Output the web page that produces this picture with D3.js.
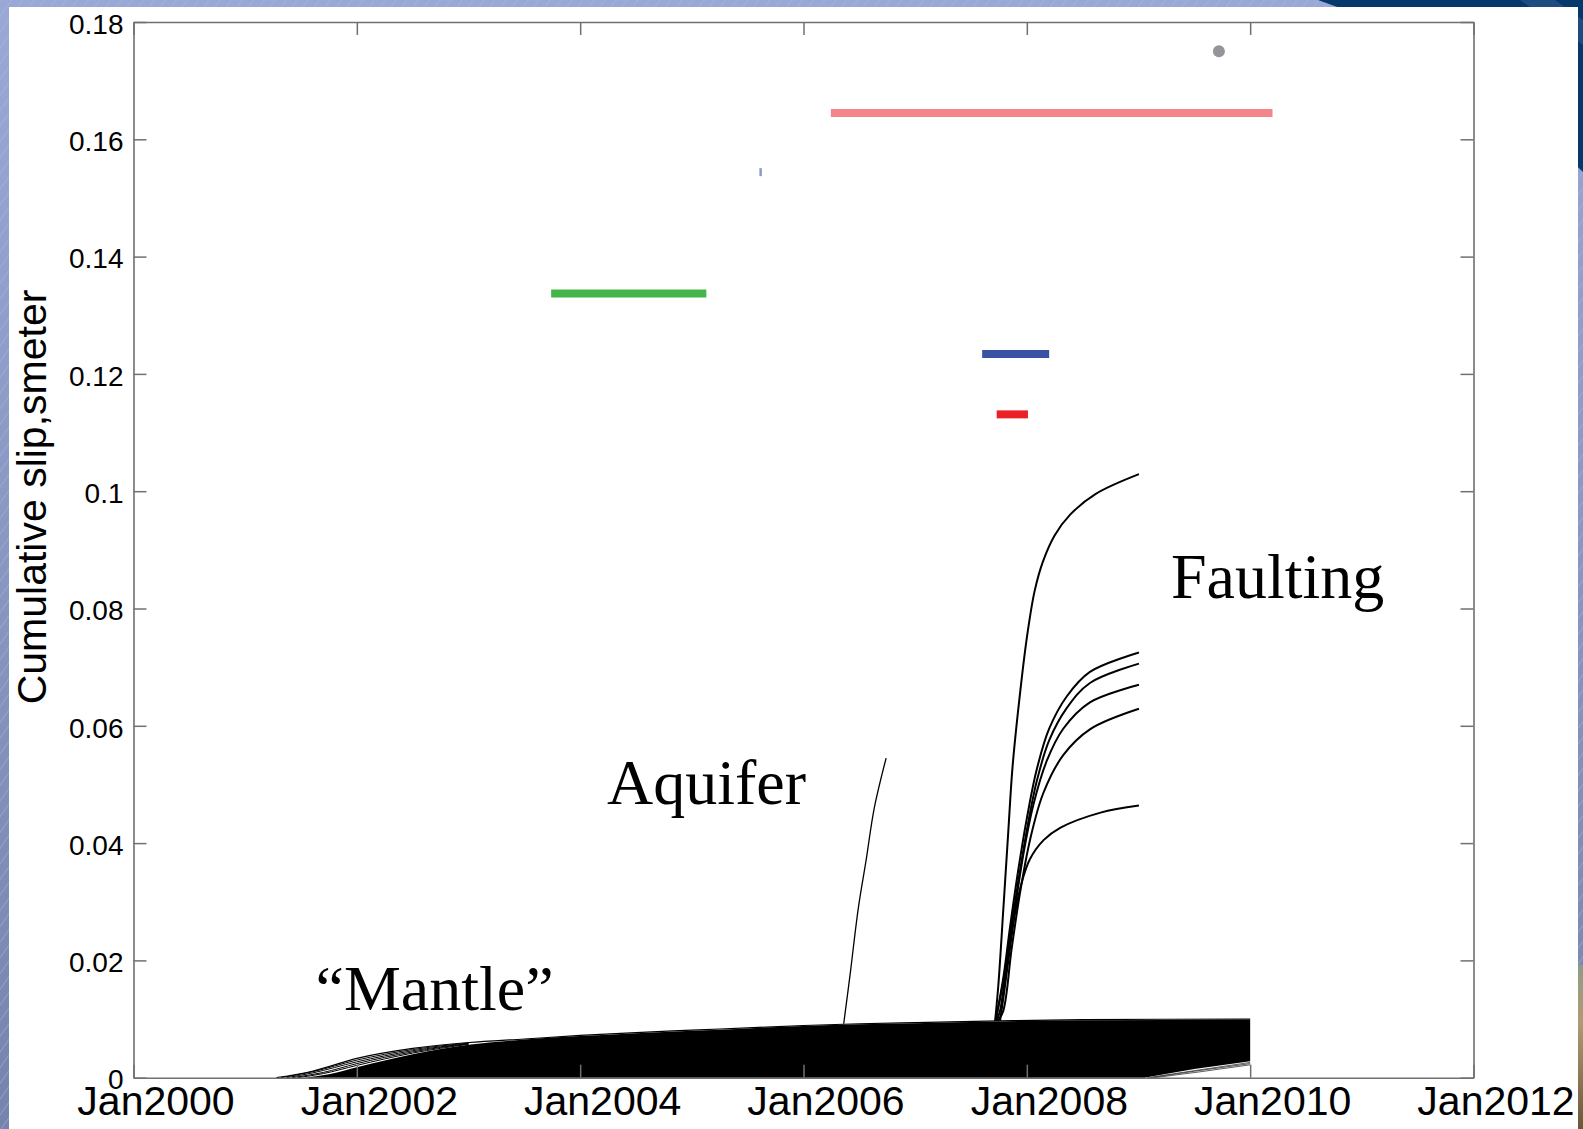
<!DOCTYPE html>
<html>
<head>
<meta charset="utf-8">
<script src="https://cdn.jsdelivr.net/npm/d3@7"></script>
<style>
  html, body { margin: 0; padding: 0; overflow: hidden; background: #8d9bc9; }
  svg { display: block; }
</style>
</head>
<body>
<svg id="chart" width="1583" height="1129"></svg>
<script>
// ---- axis ticks (decimal years / metres) ----
const xTickValues = [2000, 2002, 2004, 2006, 2008, 2010, 2012];
const xTickLabels = ["Jan2000", "Jan2002", "Jan2004", "Jan2006", "Jan2008", "Jan2010", "Jan2012"];
const yTickValues = [0, 0.02, 0.04, 0.06, 0.08, 0.1, 0.12, 0.14, 0.16, 0.18];
const yTickLabels = ["0", "0.02", "0.04", "0.06", "0.08", "0.1", "0.12", "0.14", "0.16", "0.18"];

// ---- horizontal slip-rate segments: start year, end year, cumulative slip ----
const segStart = [2003.74, 2005.605, 2006.245, 2007.60, 2007.73];
const segEnd   = [2005.13, 2005.627, 2010.20, 2008.20, 2008.01];
const segValue = [0.1337, 0.1544, 0.1645, 0.1234, 0.1131];

// ---- single point estimate ----
const dotYear  = [2009.72];
const dotValue = [0.1750];

// ---- "Mantle" relaxation bundle ----
const mantleTop = [[2001.28,0],[2001.6,0.0011],[2002,0.0033],[2002.5,0.0050],[2003,0.0060],[2003.5,0.0066],
  [2004,0.0072],[2004.5,0.0077],[2005,0.0081],[2005.5,0.0085],[2006,0.0089],[2006.5,0.0092],[2007,0.0094],
  [2007.75,0.0097],[2008.5,0.0099],[2010,0.0100]];
const mantleFan = [
  [[2001.32,0],[2001.6,0.0010],[2002,0.0030],[2002.5,0.0048],[2003,0.0059]],
  [[2001.37,0],[2001.6,0.0008],[2002,0.0027],[2002.5,0.0046],[2003,0.0058]],
  [[2001.42,0],[2001.7,0.0009],[2002,0.0024],[2002.5,0.0044],[2003,0.0058]],
  [[2001.47,0],[2001.7,0.0007],[2002,0.0021],[2002.5,0.0042],[2003,0.0057]]
];
const mantleCoreTop = [[2001.52,0],[2001.75,0.0006],[2002,0.0018],[2002.5,0.0040],[2003,0.0056],[2003.5,0.0065],
  [2004,0.0071],[2004.5,0.0076],[2005,0.0080],[2005.5,0.0084],[2006,0.0088],[2006.5,0.0091],[2007,0.0093],
  [2007.75,0.0096],[2008.5,0.0098],[2010,0.0099]];
const mantleCoreBottom = [[2001.52,0],[2009.05,0],[2009.5,0.0015],[2010,0.0028]];
const mantleTail = [
  [[2009.08,0],[2009.5,0.0012],[2010,0.0026]],
  [[2009.11,0],[2009.5,0.0011],[2010,0.0024]],
  [[2009.14,0],[2009.55,0.0010],[2010,0.0022]]
];

// ---- "Aquifer" curve ----
const aquifer = [[2006.36,0.0092],[2006.42,0.0180],[2006.49,0.0288],[2006.56,0.0370],[2006.634,0.0460],[2006.74,0.0545]];

// ---- "Faulting" curves ----
const faulting = [
  [[2007.716,0.0097],[2007.745,0.0158],[2007.790,0.0289],[2007.834,0.0420],[2007.872,0.0530],[2007.93,0.0640],
   [2008.0,0.0750],[2008.07,0.0830],[2008.144,0.0880],[2008.25,0.0925],[2008.388,0.0960],[2008.614,0.0995],[2009.004,0.1029]],
  [[2007.72,0.0097],[2007.79,0.0171],[2007.849,0.0256],[2007.924,0.0355],[2007.998,0.0440],[2008.088,0.0525],
   [2008.2,0.0595],[2008.357,0.0650],[2008.565,0.0692],[2009.004,0.0725]],
  [[2007.72,0.0097],[2007.79,0.0165],[2007.849,0.0242],[2007.924,0.0335],[2007.998,0.0420],[2008.088,0.0505],
   [2008.2,0.0575],[2008.357,0.0630],[2008.565,0.0673],[2009.004,0.0706]],
  [[2007.73,0.0097],[2007.76,0.0114],[2007.819,0.0191],[2007.894,0.0289],[2007.968,0.0380],[2008.058,0.0465],
   [2008.178,0.0540],[2008.326,0.0595],[2008.565,0.0640],[2009.004,0.0670]],
  [[2007.74,0.0097],[2007.789,0.0114],[2007.864,0.0220],[2007.939,0.0315],[2008.028,0.0405],[2008.147,0.0485],
   [2008.326,0.0550],[2008.565,0.0594],[2009.004,0.0629]],
  [[2007.76,0.0097],[2007.80,0.0150],[2007.85,0.0222],[2007.89,0.0275],[2007.95,0.0330],[2008.026,0.0372],
   [2008.15,0.0405],[2008.298,0.0426],[2008.66,0.0452],[2009.004,0.0464]]
];

// ---- annotations ----
const noteText  = ["Faulting", "Aquifer", "\u201CMantle\u201D"];
const noteYear  = [2009.29, 2004.24, 2001.63];
const noteValue = [0.0818, 0.0467, 0.0116];

// ---- styles ----
const segColors = ["#44b649", "#8f93d3", "#f4868a", "#3853a4", "#ec2027"];
const axisGrey = "#707070";

const svg = d3.select("#chart");

// slide background
const defs = svg.append("defs");
const pat = defs.append("pattern").attr("id", "stripes").attr("patternUnits", "userSpaceOnUse")
  .attr("width", 9).attr("height", 9).attr("patternTransform", "rotate(35)");
pat.append("rect").attr("width", 9).attr("height", 9).attr("fill", "none");
pat.append("line").attr("x1", 0).attr("y1", 0).attr("x2", 0).attr("y2", 9)
  .attr("stroke", "#b4bfe2").attr("stroke-width", 0.8);
const bgGrad = defs.append("linearGradient").attr("id", "bgGrad").attr("x1", 0).attr("y1", 0).attr("x2", 0).attr("y2", 1);
bgGrad.append("stop").attr("offset", "0%").attr("stop-color", "#9aa8d6");
bgGrad.append("stop").attr("offset", "100%").attr("stop-color", "#7684ad");
const photoGrad = defs.append("linearGradient").attr("id", "photoGrad").attr("x1", 0).attr("y1", 0).attr("x2", 0).attr("y2", 1);
photoGrad.append("stop").attr("offset", "0%").attr("stop-color", "#8f9c86");
photoGrad.append("stop").attr("offset", "35%").attr("stop-color", "#b09a74");
photoGrad.append("stop").attr("offset", "100%").attr("stop-color", "#6b5638");

svg.append("rect").attr("width", 1583).attr("height", 1129).attr("fill", "url(#bgGrad)");
svg.append("rect").attr("width", 1583).attr("height", 1129).attr("fill", "url(#stripes)");
// dark banner at upper right
svg.append("path").attr("d", "M1318,0 L1583,0 L1583,172 L1560,150 L1340,8 Z").attr("fill", "#05386b");
svg.append("path").attr("d", "M1520,0 L1555,0 L1583,20 L1583,45 Z").attr("fill", "#2a5688").attr("opacity", 0.7);
svg.append("rect").attr("x", 1576).attr("y", 965).attr("width", 7).attr("height", 164).attr("fill", "url(#photoGrad)");

// white figure panel
svg.append("rect").attr("x", 9).attr("y", 7).attr("width", 1569).attr("height", 1122).attr("fill", "#ffffff");

// scales
const x = d3.scaleLinear().domain([2000, 2012]).range([133.5, 1473.5]);
const y = d3.scaleLinear().domain([0, 0.18]).range([1077.7, 22]);

const line = d3.line().x(d => x(d[0])).y(d => y(d[1])).curve(d3.curveMonotoneX);
const smooth = d3.line().x(d => x(d[0])).y(d => y(d[1])).curve(d3.curveCatmullRom.alpha(0.5));
const plot = svg.append("g");

// mantle bundle: filled core plus the individual edge curves
const corePath = line(mantleCoreTop) +
  mantleCoreBottom.slice().reverse().map(p => "L" + x(p[0]) + "," + y(p[1])).join("") + "Z";
plot.append("path").attr("d", corePath).attr("fill", "#000");
plot.append("path").attr("d", line(mantleTop)).attr("fill", "none").attr("stroke", "#000").attr("stroke-width", 1.2);
plot.selectAll(".fan").data(mantleFan).join("path").attr("class", "fan")
  .attr("d", line).attr("fill", "none").attr("stroke", "#000").attr("stroke-width", 1);
plot.selectAll(".tail").data(mantleTail).join("path").attr("class", "tail")
  .attr("d", line).attr("fill", "none").attr("stroke", "#333").attr("stroke-width", 0.8);

// aquifer and faulting curves
plot.append("path").attr("d", smooth(aquifer)).attr("fill", "none").attr("stroke", "#000").attr("stroke-width", 1.3);
plot.selectAll(".fault").data(faulting).join("path").attr("class", "fault")
  .attr("d", smooth).attr("fill", "none").attr("stroke", "#000").attr("stroke-width", 2);

// segments
plot.selectAll(".seg").data(segValue).join("line").attr("class", "seg")
  .attr("x1", (d, i) => x(segStart[i])).attr("x2", (d, i) => x(segEnd[i]))
  .attr("y1", d => y(d)).attr("y2", d => y(d))
  .attr("stroke", (d, i) => segColors[i]).attr("stroke-width", 8).attr("stroke-linecap", "butt");

// point estimate
plot.selectAll(".dot").data(dotValue).join("circle").attr("class", "dot")
  .attr("cx", (d, i) => x(dotYear[i])).attr("cy", d => y(d)).attr("r", 6).attr("fill", "#939598");

// axes with inward ticks on all four sides
function styleAxis(g) {
  g.select(".domain").attr("stroke", axisGrey).attr("stroke-width", 1.6);
  g.selectAll(".tick line").attr("stroke", axisGrey).attr("stroke-width", 1.5);
  g.selectAll("text").attr("fill", "#000").attr("font-family", "'Liberation Sans', Arial, Helvetica, sans-serif");
}
const xb = svg.append("g").attr("transform", "translate(0,1077.7)")
  .call(d3.axisBottom(x).tickValues(xTickValues).tickFormat((d, i) => xTickLabels[i])
    .tickSizeInner(-13).tickSizeOuter(0).tickPadding(8));
styleAxis(xb);
xb.selectAll("text").attr("font-size", 41).attr("dx", 22).attr("dy", "0.71em");

const xt = svg.append("g").attr("transform", "translate(0,22)")
  .call(d3.axisTop(x).tickValues(xTickValues).tickFormat("").tickSizeInner(-13).tickSizeOuter(0));
styleAxis(xt);

const yl = svg.append("g").attr("transform", "translate(133.5,0)")
  .call(d3.axisLeft(y).tickValues(yTickValues).tickFormat((d, i) => yTickLabels[i])
    .tickSizeInner(-13).tickSizeOuter(0).tickPadding(10));
styleAxis(yl);
yl.selectAll("text").attr("font-size", 28).attr("dy", "0.4em");

const yr = svg.append("g").attr("transform", "translate(1473.5,0)")
  .call(d3.axisRight(y).tickValues(yTickValues).tickFormat("").tickSizeInner(-13).tickSizeOuter(0));
styleAxis(yr);

// y axis title
svg.append("text").attr("transform", "translate(46,497) rotate(-90)")
  .attr("text-anchor", "middle").attr("font-family", "'Liberation Sans', Arial, Helvetica, sans-serif")
  .attr("font-size", 41).attr("fill", "#000").text("Cumulative slip,smeter");

// annotations
svg.selectAll(".note").data(noteText).join("text").attr("class", "note")
  .attr("x", (d, i) => x(noteYear[i])).attr("y", (d, i) => y(noteValue[i]))
  .attr("font-family", "'Liberation Serif', 'Times New Roman', serif").attr("font-size", 64)
  .attr("fill", "#000").text(d => d);
</script>
</body>
</html>
